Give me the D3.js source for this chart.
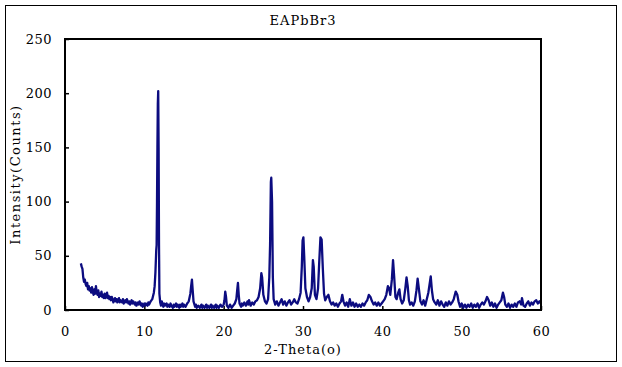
<!DOCTYPE html>
<html>
<head>
<meta charset="utf-8">
<script src="https://cdn.jsdelivr.net/npm/d3@7"></script>
<style>
  body { margin: 0; background: #fff; }
  svg text { font-family: "DejaVu Serif", serif; font-size: 13px; fill: #000; }
</style>
</head>
<body>
<div id="chart"></div>
<script>
// Data: [2-theta (deg), intensity (counts)]
const title = "EAPbBr3";
const xLabel = "2-Theta(o)";
const yLabel = "Intensity(Counts)";
const xTicks = [0, 10, 20, 30, 40, 50, 60];
const yTicks = [0, 50, 100, 150, 200, 250];
const scan = [
  [2.0,43],[2.1,40],[2.2,38],[2.3,30],[2.4,26],[2.5,28],[2.6,24],[2.7,22],[2.8,25],[2.9,19],
  [3.0,22],[3.1,18],[3.2,20],[3.3,16],[3.4,21],[3.5,17],[3.6,14],[3.7,19],[3.8,15],[3.9,22],
  [4.0,16],[4.1,14],[4.2,18],[4.3,12],[4.4,15],[4.5,13],[4.6,17],[4.7,12],[4.8,14],[4.9,11],
  [5.0,15],[5.1,11],[5.2,13],[5.3,16],[5.4,11],[5.5,13],[5.6,10],[5.7,12],[5.8,9],[5.9,12],
  [6.0,10],[6.1,7],[6.2,9],[6.3,11],[6.4,8],[6.5,10],[6.6,7],[6.7,9],[6.8,11],[6.9,7],
  [7.0,9],[7.2,7],[7.3,10],[7.4,6],[7.6,9],[7.7,7],[7.8,10],[8.0,6],[8.1,8],[8.2,5],
  [8.4,9],[8.5,6],[8.6,8],[8.8,5],[8.9,7],[9.0,4],[9.2,7],[9.3,5],[9.4,8],[9.6,4],
  [9.7,6],[9.8,3],[10.0,6],[10.1,4],[10.2,6],[10.4,4],[10.5,7],[10.6,5],[10.8,8],[11.0,10],
  [11.1,13],[11.2,16],[11.3,22],[11.4,35],[11.5,55],[11.55,60],[11.6,100],[11.65,150],[11.7,190],[11.75,202],
  [11.8,150],[11.85,60],[11.9,15],[12.0,7],[12.1,4],[12.2,8],[12.3,5],[12.4,3],[12.5,6],[12.6,4],
  [12.8,6],[12.9,3],[13.0,5],[13.2,3],[13.3,6],[13.4,4],[13.6,2],[13.7,5],[13.8,3],[14.0,6],
  [14.1,3],[14.2,5],[14.4,2],[14.5,5],[14.6,3],[14.8,6],[14.9,3],[15.0,5],[15.2,3],[15.4,6],
  [15.6,8],[15.8,15],[15.9,22],[16.0,28],[16.1,18],[16.2,8],[16.4,3],[16.5,5],[16.6,2],[16.8,4],
  [17.0,2],[17.2,5],[17.3,2],[17.4,4],[17.6,2],[17.8,5],[17.9,2],[18.0,4],[18.2,2],[18.4,5],
  [18.5,2],[18.6,4],[18.8,2],[19.0,5],[19.1,2],[19.2,4],[19.4,2],[19.6,5],[19.8,3],[20.0,5],
  [20.1,9],[20.2,17],[20.3,12],[20.4,4],[20.6,2],[20.8,5],[21.0,2],[21.2,4],[21.4,6],[21.6,10],
  [21.7,18],[21.8,25],[21.9,14],[22.0,6],[22.2,3],[22.3,6],[22.4,4],[22.6,7],[22.8,4],[23.0,8],
  [23.1,5],[23.2,9],[23.4,4],[23.6,7],[23.8,5],[24.0,8],[24.2,9],[24.4,12],[24.6,20],[24.75,34],
  [24.85,30],[25.0,14],[25.2,8],[25.4,6],[25.6,10],[25.75,30],[25.85,60],[25.95,118],[26.0,122],[26.1,100],
  [26.2,30],[26.3,10],[26.5,5],[26.7,8],[26.9,4],[27.1,7],[27.3,10],[27.5,5],[27.7,8],[27.9,4],
  [28.1,7],[28.3,9],[28.5,5],[28.7,7],[28.9,10],[29.1,7],[29.3,6],[29.5,10],[29.7,16],[29.85,40],
  [29.95,64],[30.05,67],[30.15,50],[30.3,20],[30.5,12],[30.7,8],[30.9,12],[31.1,20],[31.25,46],[31.35,40],
  [31.5,14],[31.7,10],[31.9,20],[32.05,45],[32.2,67],[32.35,65],[32.5,38],[32.65,15],[32.8,9],[33.0,12],
  [33.2,14],[33.4,8],[33.6,5],[33.8,7],[34.0,4],[34.2,6],[34.4,3],[34.6,6],[34.8,8],[34.95,14],
  [35.1,8],[35.3,4],[35.5,7],[35.7,3],[35.9,10],[36.1,4],[36.3,7],[36.5,3],[36.7,6],[36.9,3],
  [37.1,5],[37.3,3],[37.5,6],[37.7,4],[37.9,7],[38.1,9],[38.3,14],[38.5,12],[38.7,8],[38.9,5],
  [39.1,7],[39.3,4],[39.5,7],[39.7,4],[39.9,6],[40.1,8],[40.3,10],[40.5,14],[40.7,22],[40.85,20],
  [41.0,14],[41.2,28],[41.35,46],[41.5,30],[41.65,12],[41.8,10],[42.0,16],[42.15,19],[42.3,10],[42.5,6],
  [42.7,9],[42.9,20],[43.05,30],[43.2,22],[43.35,9],[43.5,5],[43.7,7],[43.9,4],[44.1,8],[44.3,18],
  [44.45,29],[44.6,20],[44.8,8],[45.0,5],[45.2,9],[45.4,4],[45.6,10],[45.8,16],[46.0,26],[46.1,31],
  [46.25,18],[46.4,10],[46.6,7],[46.8,5],[47.0,9],[47.2,4],[47.4,8],[47.6,5],[47.8,3],[48.0,7],
  [48.2,4],[48.4,8],[48.6,5],[48.8,7],[49.0,10],[49.25,17],[49.45,14],[49.6,8],[49.8,3],[50.0,6],
  [50.2,2],[50.4,5],[50.6,2],[50.8,5],[51.0,3],[51.2,6],[51.4,2],[51.6,5],[51.8,3],[52.0,6],
  [52.2,2],[52.4,5],[52.6,7],[52.8,5],[53.0,8],[53.2,12],[53.4,9],[53.6,4],[53.8,7],[54.0,3],
  [54.2,6],[54.4,2],[54.6,5],[54.8,7],[55.0,9],[55.2,16],[55.35,12],[55.5,5],[55.7,3],[55.9,6],
  [56.1,2],[56.3,5],[56.5,3],[56.7,6],[56.9,3],[57.1,7],[57.3,8],[57.5,5],[57.6,11],[57.8,4],
  [58.0,3],[58.2,6],[58.4,8],[58.6,4],[58.8,7],[59.0,5],[59.2,8],[59.4,9],[59.6,6],[59.8,8],
  [60.0,6]
];

const width = 622;
const height = 367;
const margin = { left: 65, right: 81, top: 39, bottom: 57 };

const svg = d3.select("#chart")
  .append("svg")
  .attr("width", width)
  .attr("height", height);

// outer frame
svg.append("rect")
  .attr("x", 5.5).attr("y", 5.5)
  .attr("width", 611).attr("height", 356)
  .attr("fill", "#fff")
  .attr("stroke", "#000")
  .attr("stroke-width", 1);

const xScale = d3.scaleLinear().domain([0, 60]).range([margin.left, width - margin.right]);
const yScale = d3.scaleLinear().domain([0, 250]).range([height - margin.bottom, margin.top]);

// x axis, ticks point inward
const xAxis = svg.append("g")
  .attr("transform", `translate(0, ${height - margin.bottom})`)
  .call(d3.axisBottom(xScale).tickValues(xTicks).tickSize(-4).tickPadding(17).tickFormat(d3.format("d")));
xAxis.select(".domain").remove();

const yAxis = svg.append("g")
  .attr("transform", `translate(${margin.left}, 0)`)
  .call(d3.axisLeft(yScale).tickValues(yTicks).tickSize(-4).tickPadding(13).tickFormat(d3.format("d")));
yAxis.select(".domain").remove();

svg.selectAll(".tick text")
  .style("font-family", "'DejaVu Serif', serif")
  .style("font-size", "13px")
  .style("letter-spacing", "0.5px");
svg.selectAll(".tick line").attr("stroke", "#000").attr("stroke-width", 1.5);

const line = d3.line()
  .x((d) => xScale(d[0]))
  .y((d) => yScale(d[1]));

svg.append("path")
  .datum(scan)
  .attr("fill", "none")
  .attr("stroke", "#0c0c80")
  .attr("stroke-width", 2.3)
  .attr("stroke-linejoin", "round")
  .attr("d", line);

// plot frame
svg.append("rect")
  .attr("x", margin.left).attr("y", margin.top)
  .attr("width", width - margin.left - margin.right)
  .attr("height", height - margin.top - margin.bottom)
  .attr("fill", "none")
  .attr("stroke", "#000")
  .attr("stroke-width", 2);

svg.append("text")
  .attr("x", 303).attr("y", 25)
  .attr("text-anchor", "middle")
  .style("letter-spacing", "1px")
  .text(title);

svg.append("text")
  .attr("x", 303).attr("y", 354)
  .attr("text-anchor", "middle")
  .style("letter-spacing", "1px")
  .text(xLabel);

svg.append("text")
  .attr("transform", `translate(20, ${(margin.top + height - margin.bottom) / 2}) rotate(-90)`)
  .attr("text-anchor", "middle")
  .style("letter-spacing", "1.5px")
  .text(yLabel);
</script>
</body>
</html>
